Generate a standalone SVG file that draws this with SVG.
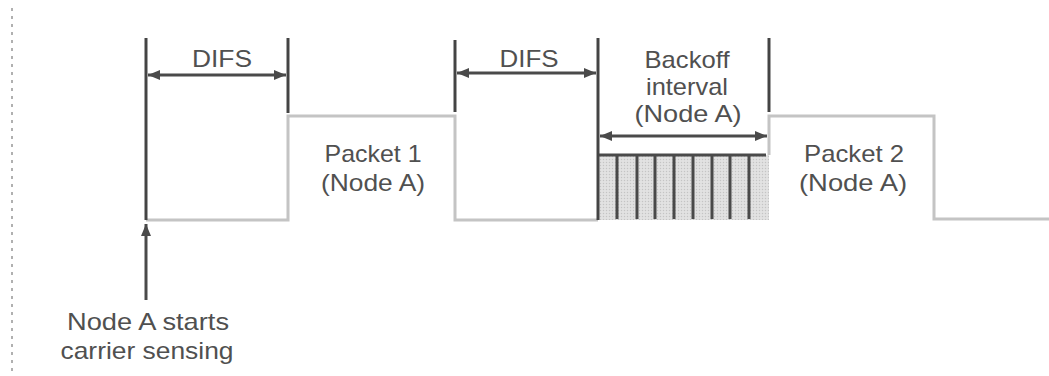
<svg xmlns="http://www.w3.org/2000/svg" width="1049" height="376" viewBox="0 0 1049 376">
<defs>
<marker id="ah" viewBox="0 0 12 10" refX="12" refY="5" markerWidth="12" markerHeight="10" markerUnits="userSpaceOnUse" orient="auto-start-reverse">
<path d="M0,0 L12,5 L0,10 z" fill="#4a4a4a"/>
</marker>
<pattern id="dots" width="3" height="3" patternUnits="userSpaceOnUse">
<rect width="3" height="3" fill="#dedede"/>
<rect width="1" height="1" fill="#c4c4c4"/>
<rect x="1.5" y="1.5" width="1" height="1" fill="#f0f0f0"/>
</pattern>
<style>
text{font-family:"Liberation Sans",Arial,sans-serif;font-size:24px;fill:#505050;text-anchor:middle}
.tick{stroke:#444;stroke-width:3;fill:none}
.sig{stroke:#c4c4c4;stroke-width:3;fill:none}
.dim{stroke:#4a4a4a;stroke-width:3;fill:none}
.bar{stroke:#4a4a4a;stroke-width:3}
</style>
</defs>
<rect width="1049" height="376" fill="#ffffff"/>
<line x1="12" y1="8" x2="12" y2="372" stroke="#b0b0b0" stroke-width="2" stroke-dasharray="3 5"/>

<g id="signal">
<polyline class="sig" points="146,220 288,220 288,116 455,116 455,220 598,220"/>
<polyline class="sig" points="769,155 769,116 934,116 934,219 1049,219"/>
</g>

<g id="backoff-slots">
<rect x="598" y="155" width="171" height="65" fill="url(#dots)"/>
<line x1="598" y1="155" x2="766" y2="155" class="bar"/>
<g class="bar">
<line x1="617" y1="155" x2="617" y2="219"/>
<line x1="637" y1="155" x2="637" y2="219"/>
<line x1="655" y1="155" x2="655" y2="219"/>
<line x1="674" y1="155" x2="674" y2="219"/>
<line x1="693" y1="155" x2="693" y2="219"/>
<line x1="712" y1="155" x2="712" y2="219"/>
<line x1="730" y1="155" x2="730" y2="219"/>
<line x1="749" y1="155" x2="749" y2="219"/>
</g>
</g>

<g id="ticks">
<line class="tick" x1="146" y1="38" x2="146" y2="220"/>
<line class="tick" x1="288" y1="38" x2="288" y2="113"/>
<line class="tick" x1="455" y1="40" x2="455" y2="112"/>
<line class="tick" x1="598" y1="38" x2="598" y2="220"/>
<line class="tick" x1="769" y1="38" x2="769" y2="112"/>
</g>

<g id="connectors">
<line class="dim" x1="148" y1="75" x2="286" y2="75" marker-start="url(#ah)" marker-end="url(#ah)"/>
<line class="dim" x1="457" y1="73" x2="596" y2="73" marker-start="url(#ah)" marker-end="url(#ah)"/>
<line class="dim" x1="600" y1="136" x2="767" y2="136" marker-start="url(#ah)" marker-end="url(#ah)"/>
<line class="dim" x1="146" y1="300" x2="146" y2="224" marker-end="url(#ah)"/>
</g>

<g id="difs1"><text x="222" y="67" textLength="60" lengthAdjust="spacingAndGlyphs">DIFS</text></g>
<g id="difs2"><text x="529" y="67" textLength="59" lengthAdjust="spacingAndGlyphs">DIFS</text></g>
<g id="packet1">
<text x="373" y="162" textLength="97" lengthAdjust="spacingAndGlyphs">Packet 1</text>
<text x="373" y="191" textLength="104" lengthAdjust="spacingAndGlyphs">(Node A)</text>
</g>
<g id="backoff">
<text x="687" y="68" textLength="85" lengthAdjust="spacingAndGlyphs">Backoff</text>
<text x="687" y="95" textLength="82" lengthAdjust="spacingAndGlyphs">interval</text>
<text x="688" y="122" textLength="107" lengthAdjust="spacingAndGlyphs">(Node A)</text>
</g>
<g id="packet2">
<text x="854" y="162" textLength="100" lengthAdjust="spacingAndGlyphs">Packet 2</text>
<text x="853" y="191" textLength="108" lengthAdjust="spacingAndGlyphs">(Node A)</text>
</g>
<g id="carrier-note">
<text x="148" y="330" textLength="162" lengthAdjust="spacingAndGlyphs">Node A starts</text>
<text x="147" y="359" textLength="173" lengthAdjust="spacingAndGlyphs">carrier sensing</text>
</g>
</svg>
